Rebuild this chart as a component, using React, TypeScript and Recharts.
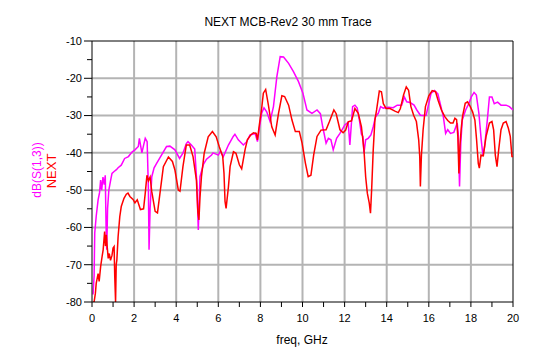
import React from 'react';
import { LineChart, Line, XAxis, YAxis, ReferenceLine } from 'recharts';

// dB(S(1,3)) trace (magenta)
const s13Freq = [
  0.05, 0.1, 0.13, 0.2, 0.29, 0.36, 0.41, 0.46, 0.52, 0.58, 0.63, 0.67, 0.7, 0.74, 0.8, 0.88, 0.95,
  1.05, 1.16, 1.24, 1.39, 1.55, 1.73, 1.9, 2.04, 2.2, 2.25, 2.37, 2.45, 2.53, 2.62, 2.68, 2.71, 2.76,
  2.84, 2.95, 3.07, 3.3, 3.54, 3.7, 3.94, 4.16, 4.32, 4.48, 4.56, 4.72, 4.88, 4.98, 5.05, 5.13, 5.3,
  5.44, 5.68, 5.75, 6.0, 6.1, 6.24, 6.48, 6.71, 6.79, 6.95, 7.19, 7.35, 7.51, 7.75, 7.86, 7.95, 8.06,
  8.17, 8.3, 8.46, 8.62, 8.78, 8.94, 9.1, 9.34, 9.57, 9.81, 10.02, 10.21, 10.45, 10.69, 10.85, 10.96,
  11.12, 11.23, 11.35, 11.46, 11.62, 11.78, 12.01, 12.17, 12.25, 12.38, 12.49, 12.6, 12.71, 12.8,
  12.87, 12.92, 13.0, 13.12, 13.25, 13.36, 13.47, 13.6, 13.71, 13.84, 14.08, 14.31, 14.5, 14.71,
  14.84, 14.95, 15.11, 15.3, 15.43, 15.6, 15.73, 15.87, 16.0, 16.11, 16.27, 16.43, 16.56, 16.69,
  16.8, 16.9, 17.03, 17.19, 17.35, 17.4, 17.43, 17.46, 17.52, 17.59, 17.75, 17.9, 18.02, 18.15,
  18.26, 18.38, 18.49, 18.57, 18.65, 18.78, 18.88, 19.0, 19.11, 19.27, 19.43, 19.67, 19.83, 20.0,
];
const s13Db = [
  -78, -73, -61.5, -57, -52.6, -50.6, -47.3, -50, -46.5, -48.5, -46, -60, -66, -55, -50, -47.5, -45.5,
  -45, -44.5, -44, -43.3, -41.5, -41, -39.8, -39.2, -38.3, -36.1, -40, -38, -36.1, -37, -50, -66, -55,
  -46.4, -44, -42.8, -40.6, -38.3, -38.2, -39.2, -41.5, -40.1, -37.5, -37, -37.9, -39, -48, -60.7,
  -46.4, -43, -41.7, -40.6, -40, -40.6, -39.5, -41, -37.9, -35.6, -35, -36.5, -37.9, -37, -35.2,
  -34.8, -37, -33.4, -29.4, -27.9, -29, -31.6, -27.6, -19.6, -14.2, -14.3, -16, -18.2, -20.9, -24,
  -28.5, -29.4, -28.5, -29.5, -33, -37.4, -36.1, -36.5, -39.2, -36.1, -34.8, -32.5, -31.8, -37.9,
  -27.6, -27.2, -28, -31.5, -35, -35.6, -40.1, -36.5, -36.1, -35.2, -33, -30.3, -29.4, -27.6, -28,
  -27.8, -27.9, -27.2, -27.2, -25, -26.3, -26.5, -27.2, -28.5, -29.9, -30, -29.9, -26.8, -24, -23.3,
  -24.2, -27.2, -30.3, -34.8, -33.8, -34.8, -34.5, -32, -34.8, -42.7, -49, -37.4, -31.2, -28.5,
  -26.8, -25, -23.8, -24.5, -29.4, -36.5, -40.6, -38.3, -31.2, -25, -25, -26.8, -26.4, -27.2, -27.2,
  -27.6, -28.5,
];

// NEXT trace (red)
const nextFreq = [
  0.05, 0.1, 0.16, 0.2, 0.29, 0.34, 0.41, 0.48, 0.53, 0.6, 0.64, 0.68, 0.72, 0.77, 0.82, 0.88, 0.95,
  1.0, 1.05, 1.08, 1.12, 1.15, 1.18, 1.24, 1.32, 1.39, 1.52, 1.63, 1.71, 1.8, 1.95, 2.04, 2.15, 2.3,
  2.45, 2.53, 2.61, 2.68, 2.76, 2.84, 3.0, 3.11, 3.23, 3.39, 3.63, 3.82, 3.94, 4.1, 4.18, 4.32, 4.48,
  4.64, 4.8, 4.96, 5.03, 5.08, 5.13, 5.2, 5.33, 5.52, 5.72, 5.9, 6.05, 6.21, 6.27, 6.32, 6.37, 6.48,
  6.56, 6.72, 6.84, 7.0, 7.11, 7.27, 7.38, 7.54, 7.67, 7.8, 7.86, 7.95, 8.06, 8.14, 8.25, 8.38, 8.54,
  8.7, 8.86, 9.02, 9.15, 9.34, 9.5, 9.66, 9.85, 9.98, 10.14, 10.27, 10.4, 10.53, 10.69, 10.88, 11.12,
  11.28, 11.49, 11.6, 11.78, 11.93, 12.05, 12.17, 12.33, 12.49, 12.65, 12.8, 12.92, 13.0, 13.08,
  13.17, 13.23, 13.29, 13.36, 13.44, 13.52, 13.65, 13.75, 13.84, 13.97, 14.16, 14.39, 14.55, 14.65,
  14.8, 14.93, 15.04, 15.15, 15.28, 15.41, 15.52, 15.57, 15.6, 15.65, 15.73, 15.84, 16.0, 16.16,
  16.32, 16.44, 16.6, 16.76, 16.9, 17.03, 17.15, 17.24, 17.32, 17.38, 17.43, 17.48, 17.54, 17.6,
  17.73, 17.84, 17.97, 18.08, 18.19, 18.27, 18.35, 18.4, 18.48, 18.59, 18.72, 18.88, 19.0, 19.08,
  19.16, 19.24, 19.32, 19.43, 19.54, 19.67, 19.78, 19.87, 19.95, 20.0,
];
const nextDb = [
  -80, -80, -77.7, -75, -72.4, -74.5, -70.5, -67.8, -66, -61.1, -65, -62, -65, -68.3, -67, -68.8, -67.5,
  -65.5, -65.1, -73, -80, -70, -68.8, -62.5, -57.1, -54.4, -52.2, -51.1, -50.8, -51.7, -52.5, -53.4,
  -52.6, -55.2, -55, -50.8, -46, -47.5, -46.5, -50.4, -55.7, -56.1, -50.8, -43.7, -41.1, -42.3, -44.6,
  -50, -50.3, -43.7, -37.9, -37.9, -41, -47.3, -56, -58, -52, -46.4, -40.1, -35.7, -34.3, -35.7,
  -38.4, -41, -45.4, -53, -54.9, -49.2, -43.7, -39.7, -40.1, -43.2, -44.3, -39.2, -36.5, -35.2,
  -34.6, -34.8, -36.5, -32.5, -28.1, -24, -23, -27.2, -33, -35.2, -29.4, -24.7, -24.9, -27.2, -31.2,
  -34.3, -34.3, -37.4, -42.8, -46.4, -46, -40.6, -35.6, -33.9, -33.8, -31.6, -28.5, -29.5, -33.8,
  -34.6, -33.9, -31.7, -31.4, -28.1, -29.4, -33, -39.2, -46.4, -50.8, -53.4, -56.2, -49.2, -39.2,
  -31.2, -28.5, -23.4, -23.6, -26.8, -28.1, -28.1, -28.8, -29.2, -28.1, -24.5, -22.3, -23.2, -27.6,
  -29.9, -31.6, -36.5, -41, -49, -40.6, -33.8, -27.6, -24.7, -23.3, -23.6, -25.9, -28.5, -30.3,
  -31.3, -32, -32, -30.7, -31.1, -35.6, -45.5, -38, -33.5, -30.3, -26.7, -26.3, -27.6, -29, -31.2,
  -36.5, -42.8, -44.1, -40.6, -40.8, -35.6, -32, -31.6, -33.8, -40.6, -43.7, -39.2, -33.8, -32,
  -31.6, -33.4, -35.6, -41, -41,
];

const xTicks = [0, 1, 2, 3, 4, 5, 6, 7, 8, 9, 10, 11, 12, 13, 14, 15, 16, 17, 18, 19, 20];
const xGridLines = [2, 4, 6, 8, 10, 12, 14, 16, 18];
const yTicks = [-80, -75, -70, -65, -60, -55, -50, -45, -40, -35, -30, -25, -20, -15, -10];
const yGridLines = [-70, -60, -50, -40, -30, -20];

const s13Data = s13Freq.map((f, i) => ({ f, db: s13Db[i] }));
const nextData = nextFreq.map((f, i) => ({ f, db: nextDb[i] }));

const FONT = '"Liberation Sans", Arial, sans-serif';
const GRID = '#b4b4b4';

// y ticks: long tick + label on every 10 dB, short tick on the 5s
const YTick = (props: any) => {
  const { x, y, payload } = props;
  const major = payload.value % 10 === 0;
  const axisX = x + 10;
  return (
    <g>
      <line x1={axisX - (major ? 8 : 5)} x2={axisX} y1={y} y2={y} stroke="#000" />
      {major && (
        <text x={x} y={y} dy="0.35em" textAnchor="end" fontSize={11} fontFamily={FONT} fill="#000">
          {payload.value}
        </text>
      )}
    </g>
  );
};

export default function App() {
  return (
    <div style={{ position: 'absolute', left: 0, top: 0, width: 550, height: 360, background: '#fff' }}>
      <LineChart width={550} height={360} margin={{ top: 41, right: 37, bottom: 28, left: 0 }}>
        <XAxis
          dataKey="f"
          type="number"
          domain={[0, 20]}
          ticks={xTicks}
          interval={0}
          allowDataOverflow
          height={30}
          tickSize={5}
          tickMargin={7}
          tickFormatter={(v: number) => (v % 2 === 0 ? String(v) : '')}
          stroke="#000"
          tick={{ fill: '#000', fontSize: 11, fontFamily: FONT }}
        />
        <YAxis
          type="number"
          domain={[-80, -10]}
          ticks={yTicks}
          interval={0}
          allowDataOverflow
          width={92}
          tickSize={8}
          tickMargin={2}
          tickLine={false}
          stroke="#000"
          tick={<YTick />}
        />
        {xGridLines.map((v) => (
          <ReferenceLine key={'x' + v} x={v} stroke={GRID} strokeWidth={2} />
        ))}
        {yGridLines.map((v) => (
          <ReferenceLine key={'y' + v} y={v} stroke={GRID} strokeWidth={2} />
        ))}
        <ReferenceLine y={-10} stroke="#000" />
        <ReferenceLine x={20} stroke="#000" />
        <Line
          data={s13Data}
          dataKey="db"
          type="linear"
          stroke="#ff00ff"
          strokeWidth={1.5}
          dot={false}
          isAnimationActive={false}
        />
        <Line
          data={nextData}
          dataKey="db"
          type="linear"
          stroke="#ff0000"
          strokeWidth={1.5}
          dot={false}
          isAnimationActive={false}
        />
      </LineChart>
      <svg
        width={550}
        height={360}
        style={{ position: 'absolute', left: 0, top: 0, pointerEvents: 'none' }}
        fontFamily={FONT}
      >
        <text x={288} y={26} textAnchor="middle" fontSize={12} fill="#000">
          NEXT MCB-Rev2 30 mm Trace
        </text>
        <text x={302} y={344} textAnchor="middle" fontSize={12} fill="#000">
          freq, GHz
        </text>
        <text x={41} y={170} textAnchor="middle" fontSize={12} fill="#ff00ff" transform="rotate(-90 41 170)">
          dB(S(1,3))
        </text>
        <text x={56} y={171} textAnchor="middle" fontSize={13} fill="#ff0000" transform="rotate(-90 56 171)">
          NEXT
        </text>
      </svg>
    </div>
  );
}
